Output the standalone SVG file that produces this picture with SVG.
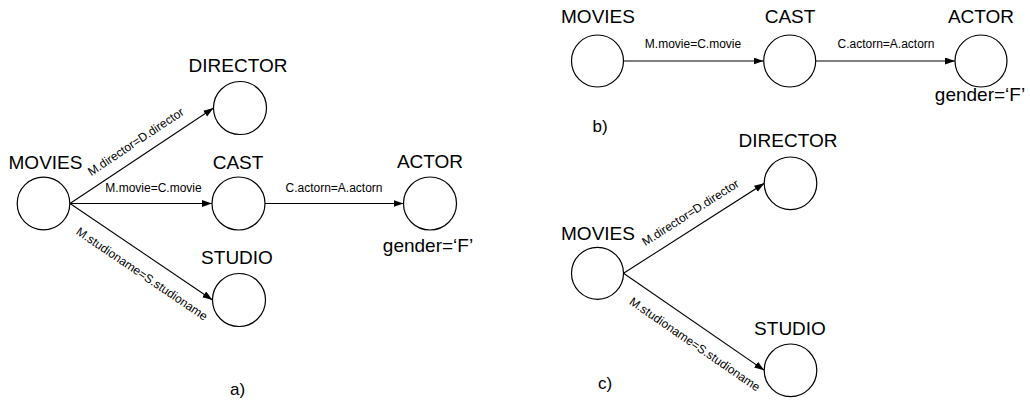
<svg xmlns="http://www.w3.org/2000/svg" width="1030" height="402" viewBox="0 0 1030 402">
  <style>
    .node { fill: #ffffff; stroke: #000000; stroke-width: 1.2; }
    .edge { fill: none; stroke: #000000; stroke-width: 1.1; marker-end: url(#arrow); }
    .name { font-family: "Liberation Sans", Arial, sans-serif; font-size: 19px; fill: #000000; text-anchor: middle; }
    .cond { font-family: "Liberation Sans", Arial, sans-serif; font-size: 12px; fill: #000000; text-anchor: middle; }
    .tag  { font-family: "Liberation Sans", Arial, sans-serif; font-size: 17px; fill: #000000; text-anchor: middle; }
  </style>
  <defs>
    <marker id="arrow" markerUnits="userSpaceOnUse" markerWidth="11" markerHeight="8" refX="10" refY="3.5" orient="auto">
      <path d="M0,0 L10,3.5 L0,7 z" fill="#000000"/>
    </marker>
  </defs>
  <rect width="1030" height="402" fill="#ffffff"/>

  <!-- connectors -->
  <g id="connectors">
    <!-- a) -->
    <line class="edge" x1="70" y1="203.5" x2="213.5" y2="108"/>
    <line class="edge" x1="70" y1="203.5" x2="212" y2="203.5"/>
    <line class="edge" x1="70" y1="203.5" x2="212.5" y2="300"/>
    <line class="edge" x1="265" y1="203.5" x2="403.5" y2="203.5"/>
    <text class="cond" x="153.5" y="192">M.movie=C.movie</text>
    <text class="cond" x="334" y="192">C.actorn=A.actorn</text>
    <g transform="translate(70,203.5) rotate(-33.6)">
      <text class="cond" x="89" y="-11">M.director=D.director</text>
    </g>
    <g transform="translate(70,203.5) rotate(34.1)">
      <text class="cond" x="99" y="22">M.studioname=S.studioname</text>
    </g>

    <!-- b) -->
    <line class="edge" x1="623.5" y1="61" x2="763.5" y2="61"/>
    <line class="edge" x1="816" y1="61" x2="955" y2="61"/>
    <text class="cond" x="693" y="48">M.movie=C.movie</text>
    <text class="cond" x="886" y="48">C.actorn=A.actorn</text>

    <!-- c) -->
    <line class="edge" x1="623.5" y1="273.3" x2="764.3" y2="183.3"/>
    <line class="edge" x1="623.5" y1="273.3" x2="764.3" y2="370.3"/>
    <g transform="translate(623.5,273.3) rotate(-32.6)">
      <text class="cond" x="89" y="-11">M.director=D.director</text>
    </g>
    <g transform="translate(623.5,273.3) rotate(34.6)">
      <text class="cond" x="99" y="22">M.studioname=S.studioname</text>
    </g>
  </g>

  <!-- a) nodes -->
  <g id="a-movies">
    <circle class="node" cx="43.5" cy="203.5" r="26.3"/>
    <text class="name" x="45.5" y="169">MOVIES</text>
  </g>
  <g id="a-director">
    <circle class="node" cx="240" cy="108" r="26.5"/>
    <text class="name" x="238" y="72">DIRECTOR</text>
  </g>
  <g id="a-cast">
    <circle class="node" cx="238.5" cy="203.5" r="26.5"/>
    <text class="name" x="238" y="168.5">CAST</text>
  </g>
  <g id="a-studio">
    <circle class="node" cx="239" cy="300" r="26.5"/>
    <text class="name" x="237" y="264">STUDIO</text>
  </g>
  <g id="a-actor">
    <circle class="node" cx="430" cy="203.5" r="26.5"/>
    <text class="name" x="430" y="167.5">ACTOR</text>
    <text class="name" x="428" y="252">gender=‘F’</text>
  </g>
  <text class="tag" x="237.5" y="395">a)</text>

  <!-- b) nodes -->
  <g id="b-movies">
    <circle class="node" cx="597.5" cy="61" r="26"/>
    <text class="name" x="598" y="23">MOVIES</text>
  </g>
  <g id="b-cast">
    <circle class="node" cx="789.7" cy="61" r="26"/>
    <text class="name" x="790" y="23">CAST</text>
  </g>
  <g id="b-actor">
    <circle class="node" cx="981" cy="61" r="26"/>
    <text class="name" x="981" y="23">ACTOR</text>
    <text class="name" x="980" y="101">gender=‘F’</text>
  </g>
  <text class="tag" x="600" y="132">b)</text>

  <!-- c) nodes -->
  <g id="c-movies">
    <circle class="node" cx="597.5" cy="273.3" r="26"/>
    <text class="name" x="598" y="240">MOVIES</text>
  </g>
  <g id="c-director">
    <circle class="node" cx="790.5" cy="183.3" r="26.3"/>
    <text class="name" x="788" y="147">DIRECTOR</text>
  </g>
  <g id="c-studio">
    <circle class="node" cx="790.5" cy="370.3" r="26.3"/>
    <text class="name" x="790" y="335">STUDIO</text>
  </g>
  <text class="tag" x="605" y="389">c)</text>
</svg>
